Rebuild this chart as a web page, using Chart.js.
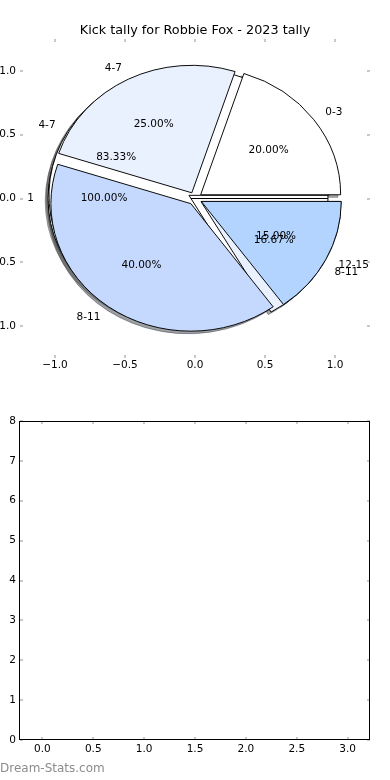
<!DOCTYPE html>
<html>
<head>
<meta charset="utf-8">
<title>Kick tally for Robbie Fox - 2023 tally</title>
<script src="https://cdn.jsdelivr.net/npm/chart.js@4.4.0/dist/chart.umd.min.js"></script>
<style>
  html, body { margin: 0; padding: 0; background: #fff; }
  #wrap { position: relative; width: 390px; height: 780px; overflow: hidden; }
  canvas { position: absolute; left: 0; top: 0; }
  #axBottom { top: 400px; }
  #credit {
    position: absolute; left: 0; top: 761px;
    font-family: "DejaVu Sans", sans-serif; font-size: 12px; line-height: 14px;
    color: #8c8c8c;
  }
</style>
</head>
<body>
<div id="wrap">
  <canvas id="pieC" width="390" height="397"></canvas>
  <canvas id="pieB" width="390" height="397"></canvas>
  <canvas id="pieA" width="390" height="397"></canvas>
  <canvas id="axTop" width="390" height="400"></canvas>
  <canvas id="axBottom" width="390" height="380"></canvas>
  <div id="credit">Dream-Stats.com</div>
</div>
<script>
const chartTitle = 'Kick tally for Robbie Fox - 2023 tally';

// three pies are drawn over each other, the first one at the bottom
const pieCLabels = ['1'];
const pieCValues = [1];
const pieBLabels = ['4-7', '8-11'];
const pieBValues = [5, 1];
const pieALabels = ['0-3', '4-7', '8-11', '12-15'];
const pieAValues = [4, 5, 8, 3];
const sliceColors = ['#ffffff', '#e9f0fe', '#c5d9fe', '#b3d4fe'];

const pieTicks = [-1, -0.5, 0, 0.5, 1];
const emptyXTicks = [0, 0.5, 1, 1.5, 2, 2.5, 3];
const emptyYTicks = [0, 1, 2, 3, 4, 5, 6, 7, 8];

const RADIUS = 140;          // px for 1.0 on the x axis
const KY = 127.5 / 140;      // the y axis is a bit shorter per unit
const EXPLODE = 0.05;
const SHADOW = 0.02;
const LABEL_DIST = 1.1;
const PCT_DIST = 0.6;

Chart.defaults.font.family = '"DejaVu Sans", sans-serif';
Chart.defaults.font.size = 10.5;
Chart.defaults.color = '#000';

function fmt1(v) {
    return (v < 0 ? '\u2212' : '') + Math.abs(v).toFixed(1);
}

function shade(hex) {
    const n = parseInt(hex.slice(1), 16);
    const r = Math.round(0.3 * (n >> 16 & 255));
    const g = Math.round(0.3 * (n >> 8 & 255));
    const b = Math.round(0.3 * (n & 255));
    return 'rgba(' + r + ',' + g + ',' + b + ',0.5)';
}

function drawShadows(ctx, charts) {
    charts.forEach(function (chart) {
        chart.getDatasetMeta(0).data.forEach(function (arc) {
            const x = arc.x - SHADOW * RADIUS;
            const y = arc.y - SHADOW * RADIUS;
            const c = shade(arc.options.backgroundColor);
            ctx.beginPath();
            ctx.moveTo(x, y);
            ctx.arc(x, y, arc.outerRadius, arc.startAngle, arc.endAngle);
            ctx.closePath();
            ctx.fillStyle = c;
            ctx.strokeStyle = c;
            ctx.lineWidth = 1;
            ctx.fill();
            ctx.stroke();
        });
    });
}

// explode the slices and squash / flip so the pie runs counter-clockwise
const pieLook = {
    id: 'pieLook',
    beforeDatasetsDraw(chart) {
        const ctx = chart.ctx;
        const a = chart.chartArea;
        const cx = (a.left + a.right) / 2;
        const cy = (a.top + a.bottom) / 2;
        chart.getDatasetMeta(0).data.forEach(function (arc) {
            const mid = (arc.startAngle + arc.endAngle) / 2;
            arc.x = cx + Math.cos(mid) * EXPLODE * RADIUS;
            arc.y = cy + Math.sin(mid) * EXPLODE * RADIUS;
        });
        ctx.save();
        ctx.translate(cx, cy);
        ctx.scale(1, -KY);
        ctx.translate(-cx, -cy);
        if (chart.canvas.id === 'pieC') {
            drawShadows(ctx, [pieA, pieB, chart]);
        }
    },
    afterDatasetsDraw(chart) {
        chart.ctx.restore();
    }
};

function makePie(id, labels, values) {
    return new Chart(document.getElementById(id), {
        type: 'pie',
        data: {
            labels: labels,
            datasets: [{
                data: values,
                backgroundColor: sliceColors.slice(0, values.length),
                borderColor: '#000',
                borderWidth: 1,
                borderJoinStyle: 'miter',
                radius: RADIUS,
                rotation: 90
            }]
        },
        options: {
            responsive: false,
            animation: false,
            events: [],
            radius: RADIUS,
            rotation: 90,
            layout: { padding: 0 },
            plugins: {
                legend: { display: false },
                tooltip: { enabled: false }
            }
        },
        plugins: [pieLook]
    });
}

const pieA = makePie('pieA', pieALabels, pieAValues);
const pieB = makePie('pieB', pieBLabels, pieBValues);
const pieC = makePie('pieC', pieCLabels, pieCValues);

const tickMarks = {
    id: 'tickMarks',
    afterDraw(chart, args, opts) {
        const ctx = chart.ctx;
        const a = chart.chartArea;
        const sx = chart.scales.x;
        const sy = chart.scales.y;
        ctx.save();
        ctx.strokeStyle = '#c8c8c8';
        ctx.lineWidth = 2;
        ctx.beginPath();
        sx.ticks.forEach(function (t) {
            const x = Math.round(sx.getPixelForValue(t.value));
            ctx.moveTo(x, a.top);
            ctx.lineTo(x, a.top + 3);
            ctx.moveTo(x, a.bottom);
            ctx.lineTo(x, a.bottom - 3);
        });
        sy.ticks.forEach(function (t) {
            const y = Math.round(sy.getPixelForValue(t.value));
            ctx.moveTo(a.left, y);
            ctx.lineTo(a.left + 3, y);
            ctx.moveTo(a.right, y);
            ctx.lineTo(a.right - 3, y);
        });
        ctx.stroke();
        if (opts.frame) {
            ctx.strokeStyle = '#000';
            ctx.lineWidth = 1;
            ctx.strokeRect(a.left - 0.5, a.top + 0.5, a.right - a.left, a.bottom - a.top - 1);
        }
        ctx.restore();
    }
};

// labels and percentages of all three pies, on the top layer
const pieText = {
    id: 'pieText',
    afterDraw(chart) {
        const ctx = chart.ctx;
        ctx.save();
        ctx.font = '10.5px "DejaVu Sans"';
        ctx.fillStyle = '#000';
        ctx.textBaseline = 'middle';
        [pieC, pieB, pieA].forEach(function (pie) {
            const a = pie.chartArea;
            const cx = (a.left + a.right) / 2;
            const cy = (a.top + a.bottom) / 2;
            const values = pie.data.datasets[0].data;
            const total = values.reduce(function (s, v) { return s + v; }, 0);
            pie.getDatasetMeta(0).data.forEach(function (arc, i) {
                const mid = (arc.startAngle + arc.endAngle) / 2;
                const lx = arc.x + Math.cos(mid) * LABEL_DIST * arc.outerRadius;
                const ly = arc.y + Math.sin(mid) * LABEL_DIST * arc.outerRadius;
                ctx.textAlign = lx > cx ? 'left' : 'right';
                ctx.fillText(pie.data.labels[i], lx, cy - KY * (ly - cy));
                const px = arc.x + Math.cos(mid) * PCT_DIST * arc.outerRadius;
                const py = arc.y + Math.sin(mid) * PCT_DIST * arc.outerRadius;
                ctx.textAlign = 'center';
                ctx.fillText((values[i] / total * 100).toFixed(2) + '%', px, cy - KY * (py - cy));
            });
        });
        ctx.restore();
    }
};

function axis(min, max, tickValues, fit, pad, callback) {
    return {
        type: 'linear',
        min: min,
        max: max,
        grid: { display: false, drawTicks: false },
        border: { display: false },
        ticks: { padding: pad, maxRotation: 0, callback: callback },
        afterBuildTicks: function (s) {
            s.ticks = tickValues.map(function (v) { return { value: v }; });
        },
        afterFit: fit
    };
}

// empty strip on the right so the title centres over the whole figure
const rightStrip = {
    type: 'linear',
    position: 'right',
    min: 0,
    max: 1,
    grid: { display: false, drawTicks: false },
    border: { display: false },
    ticks: { display: false },
    afterFit: function (s) { s.width = 20; }
};

const axTop = new Chart(document.getElementById('axTop'), {
    type: 'scatter',
    data: { datasets: [{ data: [] }] },
    options: {
        responsive: false,
        animation: false,
        events: [],
        layout: { padding: 0 },
        plugins: {
            legend: { display: false },
            tooltip: { enabled: false },
            title: {
                display: true,
                text: chartTitle,
                color: '#000',
                font: { size: 12.8, weight: 'normal' },
                padding: { top: 23, bottom: 0.64 }
            },
            tickMarks: { frame: false }
        },
        scales: {
            x: axis(-1.25, 1.25, pieTicks, function (s) { s.height = 42; }, 1, fmt1),
            y: axis(-1.25, 1.25, pieTicks, function (s) { s.width = 20; }, 4, fmt1),
            yr: rightStrip
        }
    },
    plugins: [tickMarks, pieText]
});

const axBottom = new Chart(document.getElementById('axBottom'), {
    type: 'scatter',
    data: { datasets: [{ data: [] }] },
    options: {
        responsive: false,
        animation: false,
        events: [],
        layout: { padding: { left: 0, right: 0, top: 21, bottom: 0 } },
        plugins: {
            legend: { display: false },
            tooltip: { enabled: false },
            tickMarks: { frame: true }
        },
        scales: {
            x: axis(-0.22, 3.22, emptyXTicks, function (s) { s.height = 40; }, 3, fmt1),
            y: axis(0, 8, emptyYTicks, function (s) { s.width = 20; }, 4, function (v) { return String(v); }),
            yr: rightStrip
        }
    },
    plugins: [tickMarks]
});
</script>
</body>
</html>
